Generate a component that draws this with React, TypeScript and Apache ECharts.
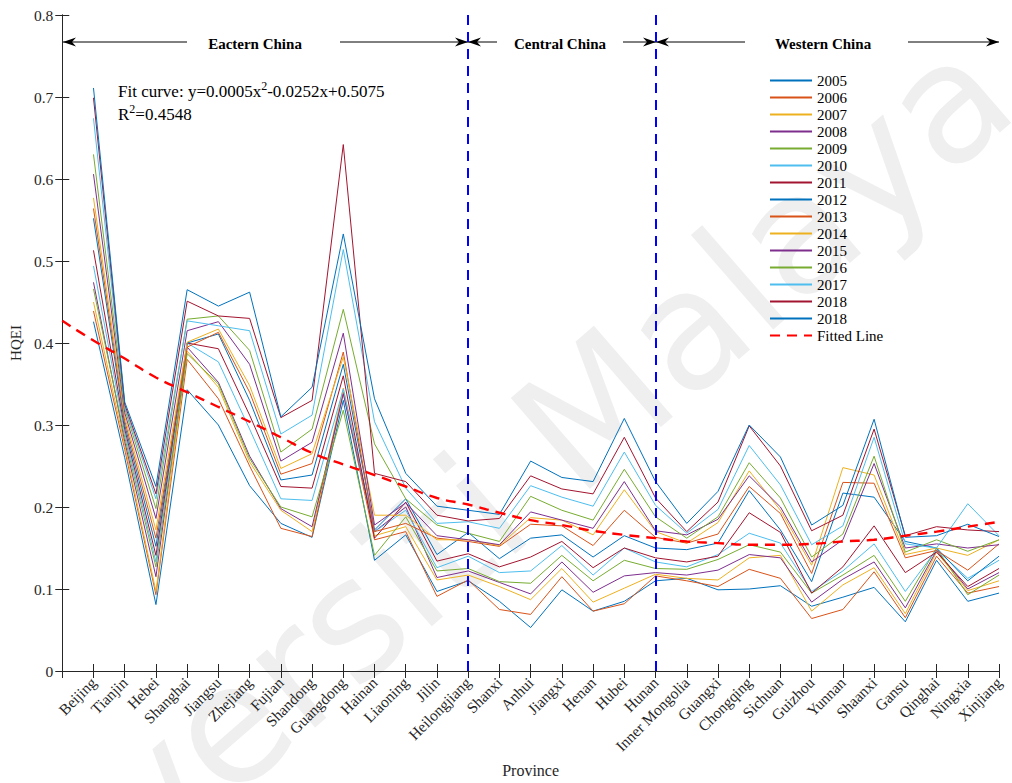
import React, { useEffect, useRef } from "react";
import * as echarts from "echarts";

const provinces = [
  "Beijing", "Tianjin", "Hebei", "Shanghai", "Jiangsu", "Zhejiang", "Fujian", "Shandong",
  "Guangdong", "Hainan", "Liaoning", "Jilin", "Heilongjiang", "Shanxi", "Anhui", "Jiangxi",
  "Henan", "Hubei", "Hunan", "Inner Mongolia", "Guangxi", "Chongqing", "Sichuan", "Guizhou",
  "Yunnan", "Shaanxi", "Gansu", "Qinghai", "Ningxia", "Xinjiang",
];

const yTicks = [0, 0.1, 0.2, 0.3, 0.4, 0.5, 0.6, 0.7, 0.8];

const y2005 = [.426,.260,.081,.343,.300,.226,.180,.163,.330,.135,.166,.097,.110,.085,.053,.099,.073,.085,.110,.113,.099,.100,.104,.079,.090,.102,.060,.135,.085,.095];
const y2006 = [.439,.270,.093,.380,.332,.250,.174,.164,.340,.160,.170,.091,.111,.075,.069,.115,.073,.082,.116,.110,.103,.124,.113,.064,.075,.121,.065,.140,.095,.103];
const y2007 = [.450,.275,.097,.390,.346,.255,.196,.170,.345,.165,.176,.111,.117,.103,.087,.125,.084,.101,.118,.113,.111,.138,.141,.073,.105,.126,.070,.145,.098,.110];
const y2008 = [.474,.280,.115,.395,.352,.262,.198,.176,.338,.170,.200,.114,.122,.108,.094,.133,.096,.116,.120,.117,.123,.142,.138,.084,.112,.133,.077,.147,.100,.120];
const y2009 = [.466,.285,.127,.387,.350,.259,.200,.188,.318,.141,.188,.122,.125,.109,.107,.141,.110,.135,.125,.124,.136,.154,.145,.095,.117,.141,.085,.150,.093,.117];
const y2010 = [.494,.290,.133,.400,.377,.295,.210,.208,.344,.170,.196,.126,.140,.120,.122,.153,.117,.150,.133,.127,.142,.168,.156,.097,.122,.155,.097,.148,.113,.135];
const y2011 = [.513,.295,.141,.400,.393,.312,.225,.223,.360,.162,.206,.134,.143,.127,.139,.158,.126,.150,.138,.133,.140,.193,.169,.095,.127,.177,.120,.145,.103,.125];
const y2012 = [.552,.300,.152,.400,.411,.330,.233,.239,.374,.172,.210,.142,.169,.137,.162,.166,.139,.165,.150,.148,.156,.220,.172,.109,.217,.212,.158,.150,.110,.140];
const y2013 = [.564,.305,.162,.395,.413,.340,.240,.253,.389,.170,.180,.162,.158,.152,.179,.177,.153,.196,.163,.156,.167,.225,.192,.119,.230,.229,.138,.147,.123,.155];
const y2014 = [.577,.310,.172,.401,.417,.348,.247,.265,.383,.190,.190,.160,.160,.153,.187,.184,.166,.221,.170,.156,.181,.244,.196,.129,.248,.239,.142,.150,.141,.160];
const y2015 = [.606,.315,.186,.415,.426,.374,.256,.279,.412,.178,.205,.165,.160,.154,.194,.184,.174,.231,.171,.166,.185,.238,.200,.133,.160,.253,.150,.155,.150,.154];
const y2016 = [.630,.320,.198,.429,.433,.391,.267,.295,.441,.277,.210,.178,.168,.158,.213,.196,.184,.246,.188,.162,.188,.254,.211,.139,.167,.262,.145,.160,.146,.160];
const y2017 = [.674,.322,.210,.427,.421,.415,.289,.312,.514,.304,.223,.180,.182,.174,.226,.212,.201,.267,.202,.168,.197,.275,.227,.154,.177,.285,.155,.150,.204,.165];
const y2018a = [.699,.325,.216,.451,.433,.430,.309,.330,.642,.241,.231,.190,.183,.186,.238,.222,.216,.285,.211,.170,.206,.299,.250,.171,.190,.295,.165,.176,.172,.170];
const y2018b = [.711,.328,.225,.465,.445,.462,.310,.346,.533,.332,.241,.201,.196,.191,.256,.236,.231,.308,.231,.180,.219,.300,.261,.178,.202,.307,.163,.165,.179,.164];

// fitted curve at x = 0 .. 30
const fitValues = [.427,.403,.381,.358,.340,.322,.304,.285,.266,.252,.239,.225,.211,.203,.193,.184,.178,.171,.166,.162,.158,.156,.154,.154,.155,.158,.160,.165,.170,.176,.182];

const seriesKeys = ["2005","2006","2007","2008","2009","2010","2011","2012","2013","2014","2015","2016","2017","2018","2018 "];
const seriesData = [y2005,y2006,y2007,y2008,y2009,y2010,y2011,y2012,y2013,y2014,y2015,y2016,y2017,y2018a,y2018b];
const palette = ["#0072BD","#D95319","#EDB120","#7E2F8E","#77AC30","#4DBEEE","#A2142F"];

const regionBounds = [13, 19];

const SERIF = "'Liberation Serif', 'Times New Roman', serif";
const AX = "#262626";

export default function App() {
  const ref = useRef<HTMLDivElement>(null);
  useEffect(() => {
    if (!ref.current) return;
    const chart = echarts.init(ref.current, null, { renderer: "svg" });

    const lineSeries = seriesData.map((arr, k) => ({
      name: seriesKeys[k],
      type: "line",
      data: arr.map((v, i) => [i + 1, v]),
      symbol: "none",
      showSymbol: false,
      color: palette[k % palette.length],
      lineStyle: { width: 1, color: palette[k % palette.length] },
      z: 2 + k * 0.01,
    }));

    const arrowY = 42;
    const arrowLine = (x1: number, x2: number) => ({
      type: "line",
      shape: { x1, y1: arrowY, x2, y2: arrowY },
      style: { stroke: "#000", lineWidth: 1 },
      silent: true,
    });
    const head = (x: number, dir: number) => ({
      type: "polygon",
      shape: { points: [[x, arrowY], [x - dir * 13, arrowY - 4.5], [x - dir * 9, arrowY], [x - dir * 13, arrowY + 4.5]] },
      style: { fill: "#000" },
      silent: true,
    });
    const regionText = (text: string, cx: number) => ({
      type: "text",
      x: cx,
      y: arrowY + 2,
      style: { text, fontFamily: SERIF, fontSize: 15, fontWeight: "bold", fill: "#000", align: "center", verticalAlign: "middle" },
      silent: true,
    });

    chart.setOption({
      animation: false,
      grid: { left: 62, right: 13, top: 15, bottom: 101, containLabel: false },
      legend: {
        orient: "vertical",
        left: 764,
        top: 68,
        itemWidth: 42,
        itemHeight: 12,
        itemGap: 2,
        itemStyle: { opacity: 0 },
        data: [...seriesKeys, "Fitted Line"],
        formatter: (n: string) => n.trim(),
        textStyle: { fontFamily: SERIF, fontSize: 15, color: "#000", lineHeight: 15 },
      },
      xAxis: [
        {
          type: "value",
          min: 0,
          max: 30,
          interval: 1,
          position: "bottom",
          name: "Province",
          nameLocation: "middle",
          nameGap: 91,
          nameTextStyle: { fontFamily: SERIF, fontSize: 16, color: AX },
          axisLine: { show: true, lineStyle: { color: AX, width: 1 } },
          axisTick: { show: true, inside: true, length: 7, lineStyle: { color: AX } },
          axisLabel: {
            rotate: 45,
            fontFamily: SERIF,
            fontSize: 15.5,
            color: AX,
            margin: 9,
            formatter: (v: number) => provinces[Math.round(v) - 1] ?? "",
          },
          splitLine: { show: false },
        },
        {
          type: "value",
          min: 0,
          max: 30,
          interval: 1,
          position: "top",
          axisLine: { show: true, lineStyle: { color: AX, width: 1 } },
          axisTick: { show: true, inside: true, length: 7, lineStyle: { color: AX } },
          axisLabel: { show: false },
          splitLine: { show: false },
        },
      ],
      yAxis: [
        {
          type: "value",
          min: 0,
          max: 0.8,
          interval: 0.1,
          position: "left",
          name: "HQEI",
          nameLocation: "middle",
          nameGap: 33,
          nameRotate: 90,
          nameTextStyle: { fontFamily: SERIF, fontSize: 15, color: AX },
          axisLine: { show: true, lineStyle: { color: AX, width: 1 } },
          axisTick: { show: true, inside: true, length: 7, lineStyle: { color: AX } },
          axisLabel: {
            fontFamily: SERIF,
            fontSize: 15.5,
            color: AX,
            margin: 9,
            formatter: (v: number) => {
              const t = yTicks.find((q) => Math.abs(q - v) < 1e-6);
              return t === 0 ? "0" : String(t ?? +v.toFixed(1));
            },
          },
          splitLine: { show: false },
        },
        {
          type: "value",
          min: 0,
          max: 0.8,
          interval: 0.1,
          position: "right",
          axisLine: { show: true, lineStyle: { color: AX, width: 1 } },
          axisTick: { show: true, inside: true, length: 7, lineStyle: { color: AX } },
          axisLabel: { show: false },
          splitLine: { show: false },
        },
      ],
      series: [
        ...lineSeries,
        {
          name: "Fitted Line",
          type: "line",
          data: fitValues.map((v, i) => [i, v]),
          symbol: "none",
          showSymbol: false,
          smooth: true,
          color: "#FF0000",
          lineStyle: { width: 2.4, color: "#FF0000", type: [10, 7] },
          z: 5,
          markLine: {
            silent: true,
            symbol: "none",
            label: { show: false },
            lineStyle: { color: "#0000FF", width: 2, type: [10, 7] },
            data: regionBounds.map((b) => ({ xAxis: b })),
          },
        },
      ],
      graphic: [
        {
          type: "text",
          x: 985,
          y: 70,
          rotation: (41 * Math.PI) / 180,
          z: -10,
          silent: true,
          style: {
            text: "Universiti Malaya",
            fontFamily: "'DejaVu Sans', sans-serif",
            fontSize: 165,
            fill: "#efefef",
            align: "right",
            verticalAlign: "middle",
          },
        },
        arrowLine(63, 187),
        head(63, -1),
        arrowLine(340, 468),
        head(468, 1),
        arrowLine(468, 497),
        head(468, -1),
        arrowLine(623, 656),
        head(656, 1),
        arrowLine(656, 745),
        head(656, -1),
        arrowLine(908, 999),
        head(999, 1),
        regionText("Eactern China", 255),
        regionText("Central China", 560),
        regionText("Western China", 823),
        {
          type: "text",
          x: 118,
          y: 80,
          silent: true,
          style: {
            text: "Fit curve: y=0.0005x{sup|2}-0.0252x+0.5075",
            fontFamily: SERIF,
            fontSize: 17,
            fill: "#000",
            lineHeight: 22,
            rich: { sup: { fontFamily: SERIF, fontSize: 12, verticalAlign: "top", lineHeight: 13 } },
          },
        },
        {
          type: "text",
          x: 118,
          y: 103,
          silent: true,
          style: {
            text: "R{sup|2}=0.4548",
            fontFamily: SERIF,
            fontSize: 17,
            fill: "#000",
            lineHeight: 22,
            rich: { sup: { fontFamily: SERIF, fontSize: 12, verticalAlign: "top", lineHeight: 13 } },
          },
        },
      ],
    });
    return () => chart.dispose();
  }, []);
  return (
    <div
      ref={ref}
      style={{ position: "absolute", left: 0, top: 0, width: 1012, height: 783, background: "#fff" }}
    />
  );
}
